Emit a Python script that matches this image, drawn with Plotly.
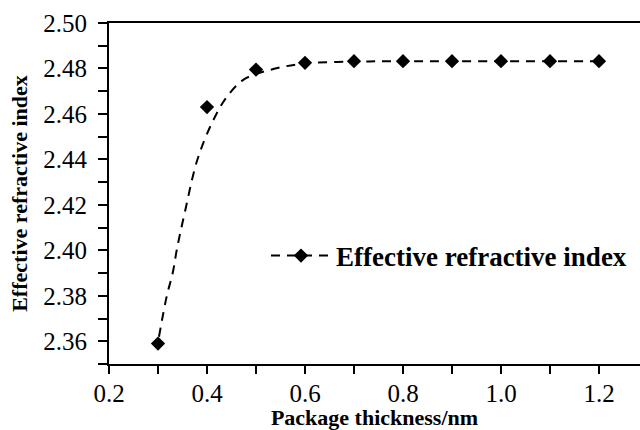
import plotly.graph_objects as go

# Measured data points
thickness = [0.3, 0.4, 0.5, 0.6, 0.7, 0.8, 0.9, 1.0, 1.1, 1.2]
n_eff = [2.359, 2.463, 2.4795, 2.4825, 2.4832, 2.4832, 2.4832, 2.4832, 2.4832, 2.4832]

# Fitted dashed curve
curve_x = [0.302, 0.318, 0.330, 0.339, 0.355, 0.380, 0.410, 0.440, 0.474, 0.500, 0.550, 0.600, 0.700, 0.800, 1.000, 1.200]
curve_y = [2.362, 2.380, 2.390, 2.401, 2.417, 2.4396, 2.456, 2.4674, 2.475, 2.4775, 2.4805, 2.4822, 2.4830, 2.4832, 2.4832, 2.4832]

x_ticks = [0.2, 0.4, 0.6, 0.8, 1.0, 1.2]
x_tick_labels = ["0.2", "0.4", "0.6", "0.8", "1.0", "1.2"]
x_minor = [0.3, 0.5, 0.7, 0.9, 1.1]
y_ticks = [2.36, 2.38, 2.40, 2.42, 2.44, 2.46, 2.48, 2.50]
y_tick_labels = ["2.36", "2.38", "2.40", "2.42", "2.44", "2.46", "2.48", "2.50"]
y_minor = [2.35, 2.37, 2.39, 2.41, 2.43, 2.45, 2.47, 2.49]

SERIF = "Liberation Serif"

fig = go.Figure()
fig.add_trace(go.Scatter(
    x=curve_x, y=curve_y, mode="lines",
    line=dict(color="black", width=2, dash="9px,7px", shape="spline", smoothing=1.0),
    showlegend=False, hoverinfo="skip",
))
fig.add_trace(go.Scatter(
    x=thickness, y=n_eff, mode="markers",
    marker=dict(symbol="diamond", size=11, color="black"),
    showlegend=False,
))
# legend entry (dashed line + diamond)
fig.add_trace(go.Scatter(
    x=[None], y=[None], mode="lines+markers",
    line=dict(color="black", width=2, dash="9px,7px"),
    marker=dict(symbol="diamond", size=11, color="black"),
    name="Effective refractive index",
))

fig.update_layout(
    width=640, height=430,
    margin=dict(l=109, r=0, t=23, b=66),
    paper_bgcolor="white", plot_bgcolor="white",
    font=dict(family=SERIF, color="black"),
    showlegend=True,
    legend=dict(
        x=(266 - 109) / 531, y=1 - (256 - 23) / 341,
        xanchor="left", yanchor="middle",
        bgcolor="rgba(0,0,0,0)", borderwidth=0,
        itemwidth=60,
        font=dict(family=SERIF, size=27, color="black", weight="bold"),
    ),
    xaxis=dict(
        range=[0.2, 0.2 + 531 / 490 * 0.1 * 10],
        tickvals=x_ticks, ticktext=x_tick_labels,
        ticks="outside", ticklen=8, tickwidth=2, tickcolor="black",
        minor=dict(tickvals=x_minor, ticks="outside", ticklen=8, tickwidth=2, tickcolor="black"),
        showline=True, linewidth=2, linecolor="black", mirror=True,
        showgrid=False, zeroline=False,
        tickfont=dict(family=SERIF, size=25, color="black"),
        ticklabelstandoff=-2,
        title=dict(text="Package thickness/nm", standoff=2,
                   font=dict(family=SERIF, size=22, color="black", weight="bold")),
    ),
    yaxis=dict(
        range=[2.35, 2.50],
        tickvals=y_ticks, ticktext=y_tick_labels,
        ticks="outside", ticklen=9, tickwidth=2, tickcolor="black",
        minor=dict(tickvals=y_minor, ticks="outside", ticklen=9, tickwidth=2, tickcolor="black"),
        showline=True, linewidth=2, linecolor="black", mirror=False,
        showgrid=False, zeroline=False,
        tickfont=dict(family=SERIF, size=25, color="black"),
        ticklabelstandoff=6,
        title=dict(text="Effective refractive index", standoff=10,
                   font=dict(family=SERIF, size=22, color="black", weight="bold")),
    ),
)

fig.write_html("out.html")
